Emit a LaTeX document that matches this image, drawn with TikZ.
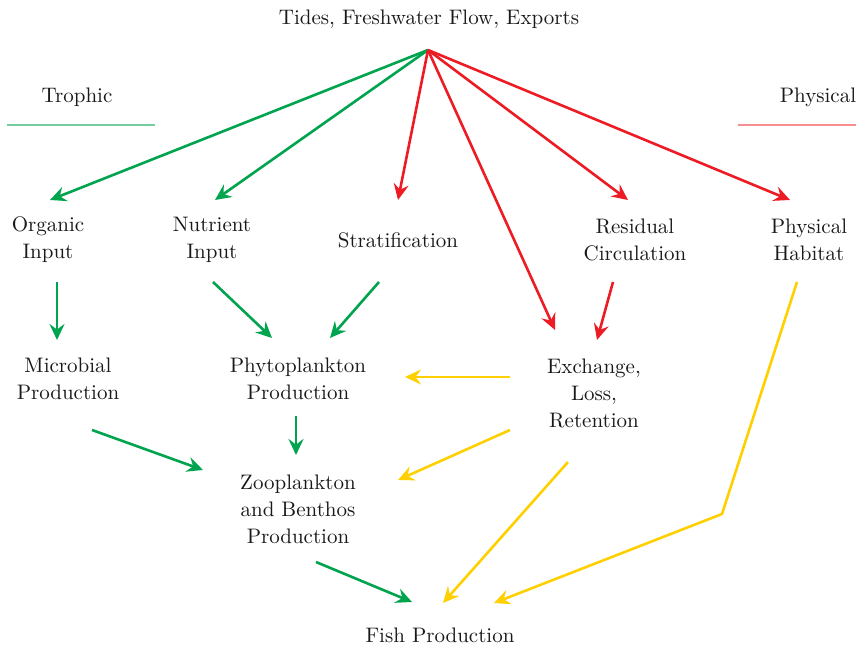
\documentclass[tikz,border=0pt]{standalone}
\usepackage{tikz}
\usetikzlibrary{arrows.meta,calc}
\definecolor{trgreen}{RGB}{0,163,78}
\definecolor{phred}{RGB}{237,28,36}
\definecolor{exyellow}{RGB}{255,208,0}

\begin{document}
\begin{tikzpicture}[
      x=0.5pt, y=-0.5pt,
      every node/.style={font=\fontsize{10.5}{13.5}\selectfont, align=center, text=black!90},
      ar/.style={-{Stealth[length=8pt,width=7.5pt,inset=2.8pt]}, line width=1.3pt},
      gar/.style={ar, trgreen},
      rar/.style={ar, phred},
      yar/.style={ar, exyellow}
    ]
    \useasboundingbox (0,0) rectangle (856,646);
    \node (top) at (429,19) {Tides, Freshwater Flow, Exports};
    \coordinate (hub) at (428,50);
    \node (tro) at (77,97) {Trophic};
    \node (phys) at (818,97) {Physical};
    \draw[trgreen!55, line width=1pt] (7,125) -- (155,125);
    \draw[phred!50, line width=1pt] (738,125) -- (856,125);

    \node (org) at (48,240) {Organic\\Input};
    \node (nut) at (212,240) {Nutrient\\Input};
    \node (str) at (398,240) {Stratification};
    \node (res) at (635,240) {Residual\\Circulation};
    \node (hab) at (809,240) {Physical\\Habitat};
    \node (mic) at (68,379) {Microbial\\Production};
    \node (phy) at (298,379) {Phytoplankton\\Production};
    \node (exc) at (594,393) {Exchange,\\Loss,\\Retention};
    \node (zoo) at (298,509) {Zooplankton\\and Benthos\\Production};
    \node (fish) at (440,635) {Fish Production};
    \coordinate (bend) at (722,514);

    % from the forcing
    \draw[gar] (hub) -- ($(org)+(2,-40)$);
    \draw[gar] (hub) -- ($(nut)+(3,-40)$);
    \draw[rar] (hub) -- ($(str)+(0,-40)$);
    \draw[rar] (hub) -- ($(exc)+(-39,-63)$);
    \draw[rar] (hub) -- ($(res)+(-7,-40)$);
    \draw[rar] (hub) -- ($(hab)+(-19,-40)$);

    \draw[gar] ($(org)+(9,42)$) -- ($(mic)+(-11,-39)$);
    \draw[gar] ($(nut)+(1,42)$) -- ($(phy)+(-26,-41)$);
    \draw[gar] ($(str)+(-19,42)$) -- ($(phy)+(32,-41)$);
    \draw[rar] ($(res)+(-22,42)$) -- ($(exc)+(3,-53)$);
    \draw[yar] ($(exc)+(-84,-16)$) -- ($(phy)+(107,-2)$);
    \draw[gar] ($(mic)+(24,51)$) -- ($(zoo)+(-95,-39)$);
    \draw[gar] ($(phy)+(-2,37)$) -- ($(zoo)+(-2,-54)$);
    \draw[yar] ($(exc)+(-84,37)$) -- ($(zoo)+(100,-29)$);
    \draw[yar] ($(exc)+(-26,69)$) -- ($(fish)+(3,-32)$);
    \draw[yar] ($(hab)+(-12,42)$) -- (bend) -- ($(fish)+(54,-32)$);
    \draw[gar] ($(zoo)+(18,53)$) -- ($(fish)+(-28,-33)$);
  \end{tikzpicture}
\end{document}
